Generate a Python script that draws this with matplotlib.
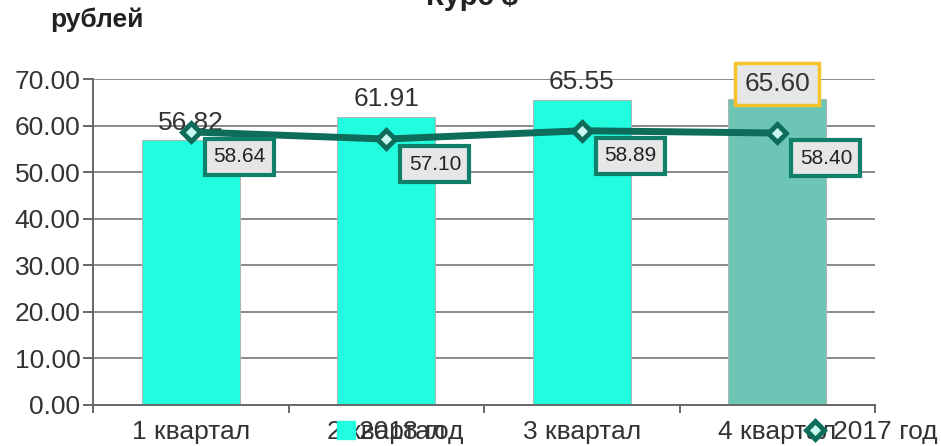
import matplotlib
matplotlib.use("Agg")
import matplotlib.pyplot as plt
from matplotlib.lines import Line2D
import numpy as np

plt.rcParams['font.family'] = ['Liberation Sans', 'DejaVu Sans']

categories = ["1 квартал", "2 квартал", "3 квартал", "4 квартал"]
values_2018 = [56.82, 61.91, 65.55, 65.60]
values_2017 = [58.64, 57.10, 58.89, 58.40]
yticks = [0, 10, 20, 30, 40, 50, 60, 70]

bar_colors = ['#22fde0', '#22fde0', '#22fde0', '#6cc5b5']
line_color = '#0d6c5a'
box_edge = '#10806a'
text_color = '#333333'
fs = 19

fig = plt.figure(figsize=(9.41, 4.46), dpi=100)
ax = fig.add_axes([93/941, 1-405/446, (875-93)/941, (405-79)/446])

x = np.arange(len(categories))
ax.bar(x, values_2018, width=0.5, color=bar_colors, edgecolor='#a8b8b4',
       linewidth=0.8, zorder=2)
ax.plot(x, values_2017, color=line_color, linewidth=5, zorder=3,
        marker='D', markersize=9, markerfacecolor='#c8f7f0',
        markeredgecolor=line_color, markeredgewidth=3.5)

ax.set_xlim(-0.5, 3.5)
ax.set_ylim(0, 70)
ax.set_yticks(yticks)
ax.set_yticklabels([f"{v:.2f}" for v in yticks], fontsize=fs, color=text_color)
ax.yaxis.grid(True, color='#8a8a8a', linewidth=1.4, zorder=0)
ax.set_axisbelow(True)

ax.set_xticks(np.arange(-0.5, 4.0, 1.0))
ax.set_xticklabels([])
ax.set_xticks(x, minor=True)
ax.set_xticklabels(categories, minor=True, fontsize=fs, color=text_color)
ax.tick_params(axis='x', which='major', length=6, width=1.4, color='#666666', direction='out')
ax.tick_params(axis='x', which='minor', length=0, pad=11)
ax.tick_params(axis='y', length=7, width=1.4, color='#666666', pad=2)

for s in ['top', 'right']:
    ax.spines[s].set_visible(False)
for s in ['left', 'bottom']:
    ax.spines[s].set_color('#666666')
    ax.spines[s].set_linewidth(1.4)

# bar labels
for i, v in enumerate(values_2018):
    if i < 3:
        ax.annotate(f"{v:.2f}", (x[i], v), xytext=(0, 4), textcoords='offset points',
                    ha='center', va='bottom', fontsize=fs, color=text_color, zorder=2.5)
    else:
        ax.annotate(f"{v:.2f}", (x[i], v), xytext=(0, 11), textcoords='offset points',
                    ha='center', va='center', fontsize=fs, color=text_color, zorder=5,
                    bbox=dict(boxstyle='square,pad=0.35', facecolor='#e6e6e6',
                              edgecolor='#f5c42c', linewidth=2.5))

# line labels
for i, v in enumerate(values_2017):
    ax.annotate(f"{v:.2f}", (x[i], v), xytext=(35, -18), textcoords='offset points',
                ha='center', va='center', fontsize=15, color='#222222', zorder=5,
                bbox=dict(boxstyle='square,pad=0.4', facecolor='#e6e6e6',
                          edgecolor=box_edge, linewidth=3))

fig.text(50/941, 1-27/446, "рублей", fontsize=19, fontweight='bold', ha='left',
         va='baseline', color='#222222')
fig.text(472/941, 1-5/446, "Курс $", fontsize=21, fontweight='bold', ha='center',
         va='baseline', color='#222222')

h1 = Line2D([], [], linestyle='none', marker='s', markersize=12.5,
            markerfacecolor='#22fde0', markeredgecolor='#22fde0')
h2 = Line2D([], [], linestyle='none', marker='D', markersize=9,
            markerfacecolor='#c8f7f0', markeredgecolor=line_color, markeredgewidth=3.5)
leg1 = fig.legend([h1], ["2018 год"], loc='center left',
                  bbox_to_anchor=(335/941, 1-432/446), frameon=False, fontsize=fs,
                  handlelength=0.8, handletextpad=0.12, borderpad=0, borderaxespad=0)
leg2 = fig.legend([h2], ["2017 год"], loc='center left',
                  bbox_to_anchor=(804/941, 1-432/446), frameon=False, fontsize=fs,
                  handlelength=0.8, handletextpad=0.3, borderpad=0, borderaxespad=0)
for leg in (leg1, leg2):
    for t in leg.get_texts():
        t.set_color(text_color)

fig.savefig("out.png", dpi=100)
